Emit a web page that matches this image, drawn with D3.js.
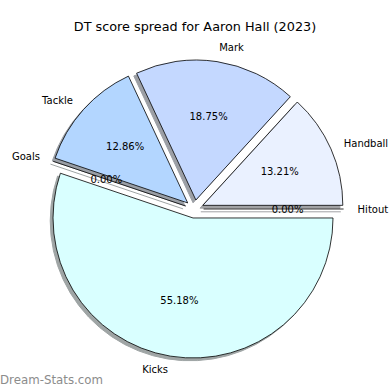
<!DOCTYPE html>
<html>
<head>
<meta charset="utf-8">
<script src="https://cdn.jsdelivr.net/npm/d3@7"></script>
<style>
  body { margin: 0; background: #fff; }
  svg { display: block; }
  text { font-family: "DejaVu Sans", sans-serif; }
</style>
</head>
<body>
<svg id="chart" width="390" height="390"></svg>
<script>
const categories = ["Hitout", "Handball", "Mark", "Tackle", "Goals", "Kicks"];
const values = [0.00, 13.21, 18.75, 12.86, 0.00, 55.18];
const colors = ["#eaf1ff", "#eaf1ff", "#c4d8ff", "#b3d6ff", "#d9ffff", "#d9ffff"];
const explode = [0.065, 0.065, 0.065, 0.065, 0.065, 0.065];
const title = "DT score spread for Aaron Hall (2023)";
const watermark = "Dream-Stats.com";

const W = 390, H = 390;
const cx = 194.5, cy = 209, R = 140;
const svg = d3.select("#chart");

const pie = d3.pie().sort(null).value(d => d.v)
  .startAngle(Math.PI / 2).endAngle(Math.PI / 2 - 2 * Math.PI);
const data = categories.map((c, i) => ({ c, v: values[i], col: colors[i], ex: explode[i] }));
const arcs = pie(data);
const arc = d3.arc().innerRadius(0).outerRadius(R);

// convert d3 angle (clockwise from 12 o'clock) to screen unit vector
function dir(a) { return [Math.sin(a), -Math.cos(a)]; }

arcs.forEach(a => {
  const mid = (a.startAngle + a.endAngle) / 2;
  const [ux, uy] = dir(mid);
  a.ox = cx + ux * a.data.ex * R;
  a.oy = cy + uy * a.data.ex * R;
  a.ux = ux; a.uy = uy;
});

function wedgePath(a) {
  if (a.startAngle === a.endAngle) {
    const [ux, uy] = dir(a.startAngle);
    return `M0,0L${ux * R},${uy * R}`;
  }
  return arc(a);
}

function shadowColor(c) {
  const r = d3.rgb(c);
  return d3.rgb(r.r * 0.3, r.g * 0.3, r.b * 0.3).toString();
}

// shadows
svg.append("g").selectAll("path").data(arcs).join("path")
  .attr("transform", a => `translate(${a.ox - 0.02 * R},${a.oy + 0.02 * R})`)
  .attr("d", wedgePath)
  .attr("fill", a => shadowColor(a.data.col))
  .attr("stroke", a => shadowColor(a.data.col))
  .attr("stroke-width", 1)
  .attr("opacity", 0.5);

// wedges
svg.append("g").selectAll("path").data(arcs).join("path")
  .attr("transform", a => `translate(${a.ox},${a.oy})`)
  .attr("d", wedgePath)
  .attr("fill", a => a.data.col)
  .attr("stroke", "#000")
  .attr("stroke-width", 0.8)
  .attr("stroke-linejoin", "miter");

// labels
svg.append("g").selectAll("text").data(arcs).join("text")
  .attr("x", a => a.ox + 1.1 * R * a.ux)
  .attr("y", a => a.oy + 1.1 * R * a.uy)
  .attr("text-anchor", a => a.ux > 0 ? "start" : "end")
  .attr("dominant-baseline", "central")
  .attr("font-size", 10)
  .attr("fill", "#000")
  .text(a => a.data.c);

// percentages
svg.append("g").selectAll("text").data(arcs).join("text")
  .attr("x", a => a.ox + 0.6 * R * a.ux)
  .attr("y", a => a.oy + 0.6 * R * a.uy)
  .attr("text-anchor", "middle")
  .attr("dominant-baseline", "central")
  .attr("font-size", 10)
  .attr("fill", "#000")
  .text(a => a.data.v.toFixed(2) + "%");

svg.append("text")
  .attr("x", 195).attr("y", 26)
  .attr("text-anchor", "middle")
  .attr("dominant-baseline", "central")
  .attr("font-size", 12.8)
  .text(title);

svg.append("text")
  .attr("x", 0).attr("y", 380)
  .attr("dominant-baseline", "central")
  .attr("font-size", 11.8)
  .attr("fill", "#8c8c8c")
  .text(watermark);
</script>
</body>
</html>
